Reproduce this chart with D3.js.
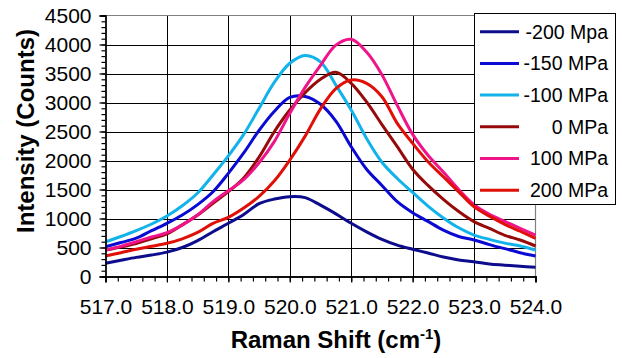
<!DOCTYPE html>
<html>
<head>
<meta charset="utf-8">
<script src="https://cdn.jsdelivr.net/npm/d3@7"></script>
<style>
  body { margin: 0; background: #fff; }
  svg { display: block; font-family: "Liberation Sans", Arial, Helvetica, sans-serif; }
</style>
</head>
<body>
<div id="chart"></div>
<script>
// Raman shift positions (cm-1)
var shifts = [517, 517.25, 517.5, 517.75, 518, 518.25, 518.5, 518.75, 519, 519.25, 519.5, 519.75,
  520, 520.25, 520.5, 520.75, 521, 521.25, 521.5, 521.75, 522, 522.25, 522.5, 522.75,
  523, 523.25, 523.5, 523.75, 524];

var seriesNames = ["-200 Mpa", "-150 MPa", "-100 MPa", "0 MPa", "100 MPa", "200 MPa"];
var seriesColors = ["#0c0c8c", "#0a0ad2", "#12b2ea", "#960a0a", "#f0148a", "#e01008"];

var minus200 = [228, 280, 330, 370, 420, 500, 620, 772, 917, 1070, 1255, 1335,
  1376, 1360, 1230, 1080, 917, 770, 640, 540, 470, 405, 335, 285,
  255, 215, 195, 175, 158];
var minus150 = [514, 585, 660, 790, 917, 1060, 1240, 1462, 1779, 2130, 2520, 2850,
  3090, 3105, 2970, 2680, 2238, 1850, 1570, 1290, 1100, 950, 800, 690,
  629, 550, 480, 410, 353];
var minus100 = [599, 690, 790, 905, 1043, 1220, 1440, 1750, 2080, 2450, 2900, 3350,
  3676, 3810, 3700, 3300, 2870, 2380, 1970, 1690, 1450, 1215, 1010, 840,
  715, 640, 575, 526, 457];
var zero = [457, 510, 570, 650, 733, 890, 1060, 1262, 1462, 1700, 2060, 2500,
  2870, 3170, 3400, 3520, 3331, 3010, 2620, 2240, 1850, 1570, 1330, 1120,
  945, 830, 710, 629, 526];
var plus100 = [457, 520, 600, 680, 755, 890, 1060, 1290, 1480, 1670, 1960, 2330,
  2813, 3260, 3640, 3990, 4090, 3870, 3480, 2950, 2450, 2090, 1800, 1500,
  1240, 1070, 950, 830, 715];
var plus200 = [353, 410, 470, 520, 572, 650, 760, 917, 1020, 1180, 1380, 1650,
  2008, 2420, 2890, 3240, 3388, 3330, 3100, 2640, 2296, 1980, 1720, 1460,
  1200, 1040, 900, 780, 658];

var allSeries = [minus200, minus150, minus100, zero, plus100, plus200];

var xTicks = [517, 518, 519, 520, 521, 522, 523, 524];
var yTicks = [0, 500, 1000, 1500, 2000, 2500, 3000, 3500, 4000, 4500];

(function(){
var W = 622, H = 358;
var pL = 105.5, pR = 535.5, pT = 15.5, pB = 276.5;

var svg = d3.select("#chart").append("svg")
  .attr("width", W)
  .attr("height", H);

var x = d3.scaleLinear().domain([517, 524]).range([pL, pR]);
var y = d3.scaleLinear().domain([0, 4500]).range([pB, pT]);

// grid lines
var grid = svg.append("g");
grid.selectAll("line.h")
  .data(yTicks.slice(1, -1))
  .enter().append("line")
  .attr("x1", pL).attr("x2", pR)
  .attr("y1", function(d){ return Math.round(y(d)) + 0.5; })
  .attr("y2", function(d){ return Math.round(y(d)) + 0.5; })
  .attr("stroke", "#000").attr("stroke-width", 1);
grid.selectAll("line.v")
  .data(xTicks.slice(1, -1))
  .enter().append("line")
  .attr("y1", pT).attr("y2", pB)
  .attr("x1", function(d){ return Math.round(x(d)) + 0.5; })
  .attr("x2", function(d){ return Math.round(x(d)) + 0.5; })
  .attr("stroke", "#000").attr("stroke-width", 1);

// top & right border
svg.append("path")
  .attr("d", "M" + pL + "," + pT + "H" + pR + "V" + pB)
  .attr("fill", "none").attr("stroke", "#808080").attr("stroke-width", 1.2);

// series lines
var line = d3.line()
  .x(function(d, i){ return x(shifts[i]); })
  .y(function(d){ return y(d); })
  .curve(d3.curveCatmullRom.alpha(0.5));

svg.append("g").selectAll("path")
  .data(allSeries)
  .enter().append("path")
  .attr("d", line)
  .attr("fill", "none")
  .attr("stroke", function(d, i){ return seriesColors[i]; })
  .attr("stroke-width", 3)
  .attr("stroke-linejoin", "round");

// axes
var minorX = d3.range(517, 524.001, 0.2);
var minorY = d3.range(0, 4501, 100);

var xAxisMinor = svg.append("g")
  .attr("transform", "translate(0," + pB + ")")
  .call(d3.axisBottom(x).tickValues(minorX).tickSize(5).tickFormat(""));
var xAxis = svg.append("g")
  .attr("transform", "translate(0," + pB + ")")
  .call(d3.axisBottom(x).tickValues(xTicks).tickSize(6).tickPadding(17)
    .tickFormat(d3.format(".1f")));
var yAxisMinor = svg.append("g")
  .attr("transform", "translate(" + pL + ",0)")
  .call(d3.axisLeft(y).tickValues(minorY).tickSize(4).tickFormat(""));
var yAxis = svg.append("g")
  .attr("transform", "translate(" + pL + ",0)")
  .call(d3.axisLeft(y).tickValues(yTicks).tickSize(6).tickPadding(8)
    .tickFormat(d3.format("d")));

[xAxisMinor, xAxis, yAxisMinor, yAxis].forEach(function(a){
  a.select(".domain").attr("stroke", "#000").attr("stroke-width", 1.3);
  a.selectAll(".tick line").attr("stroke", "#000").attr("stroke-width", 1.2);
});
xAxis.selectAll("text").attr("font-size", 21).attr("fill", "#000")
  .attr("font-family", "Liberation Sans, Arial, sans-serif");
yAxis.selectAll("text").attr("font-size", 21).attr("fill", "#000")
  .attr("font-family", "Liberation Sans, Arial, sans-serif");

// axis titles
var xt = svg.append("text")
  .attr("x", 336).attr("y", 348)
  .attr("text-anchor", "middle")
  .attr("font-size", 24).attr("font-weight", "bold");
xt.append("tspan").text("Raman Shift (cm");
xt.append("tspan").attr("dy", -9).attr("font-size", 15).text("-1");
xt.append("tspan").attr("dy", 9).text(")");

svg.append("text")
  .attr("transform", "translate(34,131) rotate(-90)")
  .attr("text-anchor", "middle")
  .attr("font-size", 24).attr("font-weight", "bold")
  .text("Intensity (Counts)");

// legend
var legend = svg.append("g");
legend.append("rect")
  .attr("x", 474.5).attr("y", 13.5).attr("width", 141).attr("height", 191)
  .attr("fill", "#fff").attr("stroke", "#000").attr("stroke-width", 1);
var items = legend.selectAll("g.item")
  .data(seriesNames)
  .enter().append("g")
  .attr("transform", function(d, i){ return "translate(0," + (31.7 + i * 31.7) + ")"; });
items.append("line")
  .attr("x1", 480).attr("x2", 519)
  .attr("stroke", function(d, i){ return seriesColors[i]; })
  .attr("stroke-width", 3);
items.append("text")
  .attr("x", 608).attr("dy", "0.35em")
  .attr("text-anchor", "end")
  .attr("font-size", 19.5)
  .text(function(d){ return d; });
})();
</script>
</body>
</html>
